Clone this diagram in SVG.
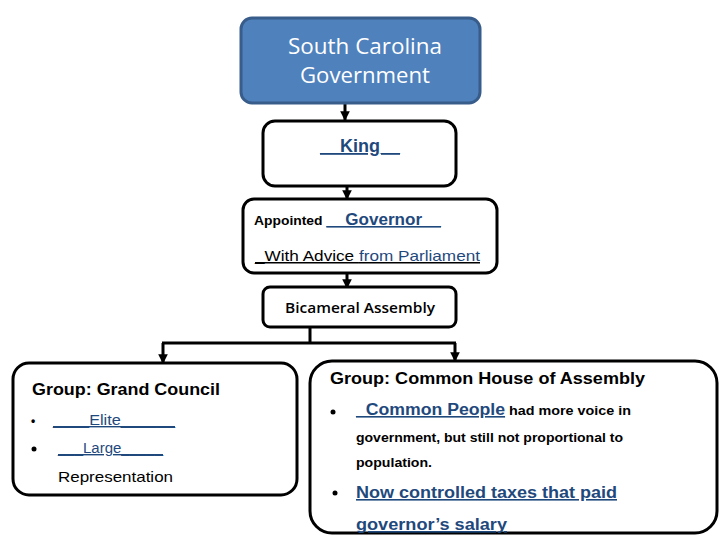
<svg xmlns="http://www.w3.org/2000/svg" width="720" height="540" viewBox="0 0 720 540">
<style>
.box{fill:#fff;stroke:#000;stroke-width:3}
.ln{fill:none;stroke:#000;stroke-width:3}
.t{font-family:"Liberation Sans",Arial,sans-serif;font-weight:bold;fill:#000}
.r{font-family:"Liberation Sans",Arial,sans-serif;font-weight:normal;fill:#000}
.b{fill:#1F497D}
.u{text-decoration:underline}
.c{font-family:"Open Sans","Noto Sans",sans-serif}
</style>
<defs>
<marker id="ah" viewBox="0 0 10 10" refX="9" refY="5" markerWidth="3.2" markerHeight="3.2" orient="auto" markerUnits="strokeWidth">
<path d="M0,0 L10,5 L0,10 Z" fill="#000"/>
</marker>
</defs>
<g id="connectors">
<line class="ln" x1="345" y1="103" x2="345" y2="120" marker-end="url(#ah)"/>
<line class="ln" x1="347" y1="186" x2="347" y2="199" marker-end="url(#ah)"/>
<line class="ln" x1="347" y1="273" x2="347" y2="288" marker-end="url(#ah)"/>
<polyline class="ln" points="310,327 310,343"/>
<line class="ln" x1="162" y1="343" x2="456" y2="343"/>
<line class="ln" x1="163" y1="343" x2="163" y2="363" marker-end="url(#ah)"/>
<line class="ln" x1="455" y1="343" x2="455" y2="361" marker-end="url(#ah)"/>
</g>
<g id="sc-government">
<rect x="241" y="18" width="239" height="85" rx="11" fill="#4F81BD" stroke="#385D8A" stroke-width="3"/>
<text class="c" x="365" y="54" font-size="21" fill="#fff" text-anchor="middle" textLength="154" lengthAdjust="spacingAndGlyphs">South Carolina</text>
<text class="c" x="365" y="83" font-size="21" fill="#fff" text-anchor="middle" textLength="130" lengthAdjust="spacingAndGlyphs">Government</text>
</g>
<g id="king">
<rect class="box" x="263" y="121" width="193" height="65" rx="12"/>
<text class="t b u" x="320" y="152" font-size="18" textLength="80" lengthAdjust="spacingAndGlyphs">__King__</text>
</g>
<g id="governor">
<rect class="box" x="243" y="199" width="254" height="74" rx="11"/>
<text class="t" x="254" y="225" font-size="13" textLength="187" lengthAdjust="spacingAndGlyphs">Appointed <tspan class="b u" font-size="16">__Governor__</tspan></text>
<text class="r u" x="255" y="261" font-size="15" textLength="225" lengthAdjust="spacingAndGlyphs">_With Advice <tspan class="b">from Parliament</tspan></text>
</g>
<g id="bicameral">
<rect class="box" x="263" y="287" width="193" height="40" rx="7"/>
<text class="c" x="360" y="313" font-size="14" font-weight="600" text-anchor="middle" textLength="150" lengthAdjust="spacingAndGlyphs">Bicameral Assembly</text>
</g>
<g id="grand-council">
<rect class="box" x="13" y="363" width="284" height="132" rx="16"/>
<text class="t" x="32" y="395" font-size="16" textLength="188" lengthAdjust="spacingAndGlyphs">Group: Grand Council</text>
<text class="t" x="31" y="425" font-size="12">•</text>
<text class="r b u" x="53" y="425" font-size="14" textLength="122" lengthAdjust="spacingAndGlyphs">____Elite______</text>
<circle cx="34" cy="449" r="2.5" fill="#000"/>
<text class="r b u" x="58" y="453" font-size="14" textLength="105" lengthAdjust="spacingAndGlyphs">___Large_____</text>
<text class="r" x="58" y="482" font-size="15" textLength="115" lengthAdjust="spacingAndGlyphs">Representation</text>
</g>
<g id="common-house">
<rect class="box" x="310" y="361" width="407" height="172" rx="22"/>
<text class="t" x="330" y="384" font-size="16" textLength="315" lengthAdjust="spacingAndGlyphs">Group: Common House of Assembly</text>
<circle cx="333" cy="412" r="2.5" fill="#000"/>
<text class="t" x="356" y="415" font-size="13" textLength="275" lengthAdjust="spacingAndGlyphs"><tspan class="b u" font-size="16">_Common People</tspan> had more voice in</text>
<text class="t" x="356" y="442" font-size="13" textLength="267" lengthAdjust="spacingAndGlyphs">government, but still not proportional to</text>
<text class="t" x="356" y="467" font-size="13" textLength="76" lengthAdjust="spacingAndGlyphs">population.</text>
<circle cx="335" cy="493" r="2.5" fill="#000"/>
<text class="t b u" x="356" y="498" font-size="16" textLength="261" lengthAdjust="spacingAndGlyphs">Now controlled taxes that paid</text>
<text class="t b u" x="356" y="530" font-size="16" textLength="151" lengthAdjust="spacingAndGlyphs">governor’s salary</text>
</g>
</svg>
